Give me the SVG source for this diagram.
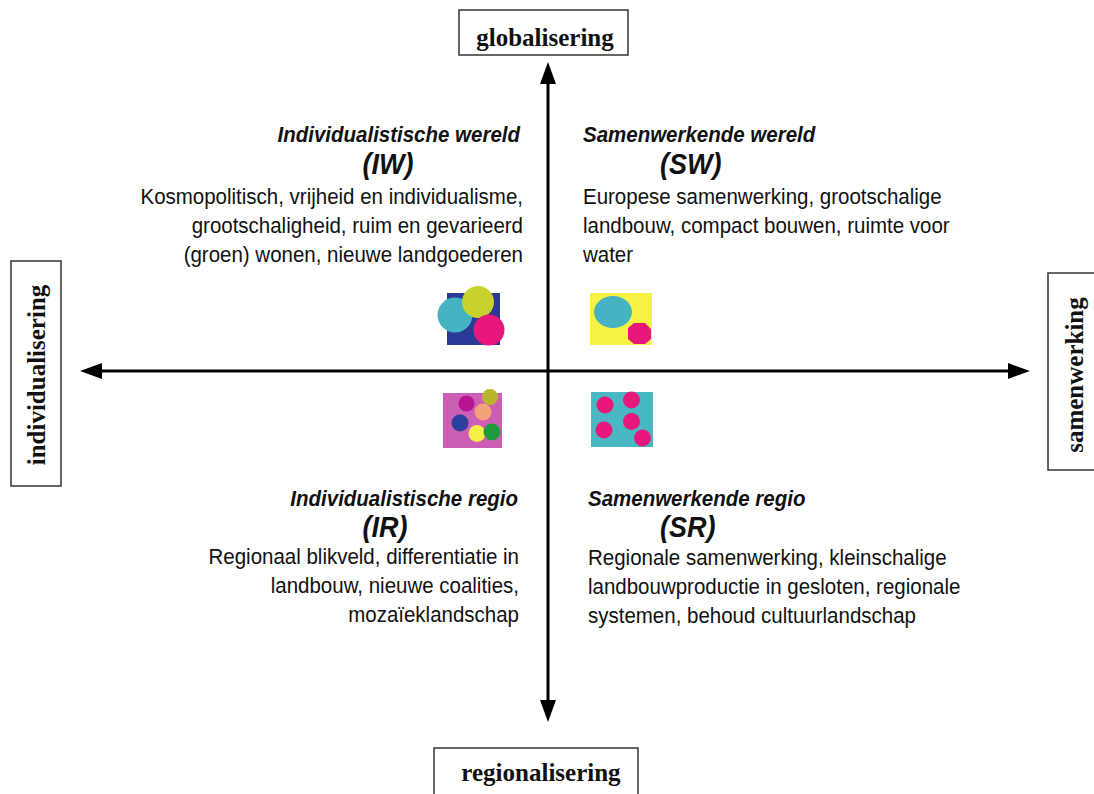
<svg xmlns="http://www.w3.org/2000/svg" width="1094" height="794" viewBox="0 0 1094 794">
<style>
.box{fill:#fff;stroke:#333;stroke-width:1.5}
.lbl{font-family:"Liberation Serif","Times New Roman",serif;font-weight:bold;font-size:25px;fill:#111}
.ttl{font-family:"Liberation Sans",Arial,sans-serif;font-weight:bold;font-style:italic;font-size:20.5px;fill:#111}
.abbr{font-family:"Liberation Sans",Arial,sans-serif;font-weight:bold;font-style:italic;font-size:27px;fill:#111}
.body{font-family:"Liberation Sans",Arial,sans-serif;font-size:20.5px;fill:#111}
.ax{stroke:#000;stroke-width:3;fill:none}
</style>
<defs>
<marker id="arr" markerUnits="userSpaceOnUse" markerWidth="22" markerHeight="16" refX="0" refY="8" orient="auto-start-reverse" viewBox="0 0 22 16">
<path d="M0,0 L22,8 L0,16 Z" fill="#000"/>
</marker>
</defs>
<rect width="1094" height="794" fill="#fff"/>
<g id="connectors">
<line class="ax" x1="548" y1="84" x2="548" y2="700" marker-start="url(#arr)" marker-end="url(#arr)"/>
<line class="ax" x1="102" y1="371" x2="1008" y2="371" marker-start="url(#arr)" marker-end="url(#arr)"/>
</g>
<g id="globalisering">
<rect class="box" x="459" y="10" width="169" height="45"/>
<text class="lbl" x="545" y="46" text-anchor="middle">globalisering</text>
</g>
<g id="regionalisering">
<rect class="box" x="434" y="748" width="204" height="60"/>
<text class="lbl" x="541" y="781" text-anchor="middle">regionalisering</text>
</g>
<g id="individualisering">
<rect class="box" x="11" y="261" width="50" height="225"/>
<text class="lbl" transform="translate(45,375) rotate(-90)" text-anchor="middle" font-size="26">individualisering</text>
</g>
<g id="samenwerking">
<rect class="box" x="1048" y="273" width="60" height="197"/>
<text class="lbl" transform="translate(1083,375) rotate(-90)" text-anchor="middle" font-size="26">samenwerking</text>
</g>
<g id="IW">
<text class="ttl" transform="translate(520,142) scale(1,1.1)" text-anchor="end">Individualistische wereld</text>
<text class="abbr" transform="translate(388,174) scale(1,1.08)" text-anchor="middle">(IW)</text>
<text class="body" transform="translate(523,204) scale(1,1.1)" text-anchor="end">Kosmopolitisch, vrijheid en individualisme,</text>
<text class="body" transform="translate(523,233) scale(1,1.1)" text-anchor="end">grootschaligheid, ruim en gevarieerd</text>
<text class="body" transform="translate(523,262) scale(1,1.1)" text-anchor="end">(groen) wonen, nieuwe landgoederen</text>
<g id="IW-icon">
<rect x="447" y="293" width="53" height="52" fill="#2b3a96"/>
<circle cx="455" cy="315" r="17.5" fill="#45b3c2"/>
<circle cx="478" cy="302" r="16" fill="#c9d22c"/>
<circle cx="489" cy="330" r="15.5" fill="#e8177c"/>
</g>
</g>
<g id="SW">
<text class="ttl" transform="translate(583,142) scale(1,1.1)">Samenwerkende wereld</text>
<text class="abbr" transform="translate(660,174) scale(1,1.08)">(SW)</text>
<text class="body" transform="translate(583,204) scale(1,1.1)">Europese samenwerking, grootschalige</text>
<text class="body" transform="translate(583,233) scale(1,1.1)">landbouw, compact bouwen, ruimte voor</text>
<text class="body" transform="translate(583,262) scale(1,1.1)">water</text>
<g id="SW-icon">
<rect x="590" y="293" width="62" height="52" fill="#f6f345"/>
<ellipse cx="613" cy="312" rx="19" ry="16" fill="#45b3c2"/>
<polygon points="634,323 645,323 651,329 651,339 645,344 634,344 628,339 628,328" fill="#e8177c"/>
</g>
</g>
<g id="IR">
<text class="ttl" transform="translate(518,506) scale(1,1.1)" text-anchor="end">Individualistische regio</text>
<text class="abbr" transform="translate(385,537) scale(1,1.08)" text-anchor="middle">(IR)</text>
<text class="body" transform="translate(519,564) scale(1,1.1)" text-anchor="end">Regionaal blikveld, differentiatie in</text>
<text class="body" transform="translate(519,593) scale(1,1.1)" text-anchor="end">landbouw, nieuwe coalities,</text>
<text class="body" transform="translate(519,622) scale(1,1.1)" text-anchor="end">mozaïeklandschap</text>
<g id="IR-icon">
<rect x="443" y="393" width="59" height="55" fill="#cc5eb6"/>
<circle cx="466.5" cy="403.5" r="8" fill="#b5168f"/>
<circle cx="490" cy="397" r="8" fill="#bab52c"/>
<circle cx="483" cy="412" r="8.5" fill="#f4a276"/>
<circle cx="460" cy="423" r="8.5" fill="#2c3f9c"/>
<circle cx="477" cy="433.5" r="8.5" fill="#f4ef45"/>
<circle cx="492" cy="432" r="8.5" fill="#1e9a3c"/>
</g>
</g>
<g id="SR">
<text class="ttl" transform="translate(588,506) scale(1,1.1)">Samenwerkende regio</text>
<text class="abbr" transform="translate(660,537) scale(1,1.08)">(SR)</text>
<text class="body" transform="translate(588,565) scale(1,1.1)">Regionale samenwerking, kleinschalige</text>
<text class="body" transform="translate(588,594) scale(1,1.1)">landbouwproductie in gesloten, regionale</text>
<text class="body" transform="translate(588,623) scale(1,1.1)">systemen, behoud cultuurlandschap</text>
<g id="SR-icon">
<rect x="591" y="392" width="62" height="55" fill="#4ab8c3"/>
<circle cx="605" cy="405" r="8.5" fill="#e8177c"/>
<circle cx="631.5" cy="400" r="8.5" fill="#e8177c"/>
<circle cx="631.5" cy="421.5" r="8.5" fill="#e8177c"/>
<circle cx="604" cy="430" r="8.5" fill="#e8177c"/>
<circle cx="642.5" cy="438" r="8.5" fill="#e8177c"/>
</g>
</g>
</svg>
